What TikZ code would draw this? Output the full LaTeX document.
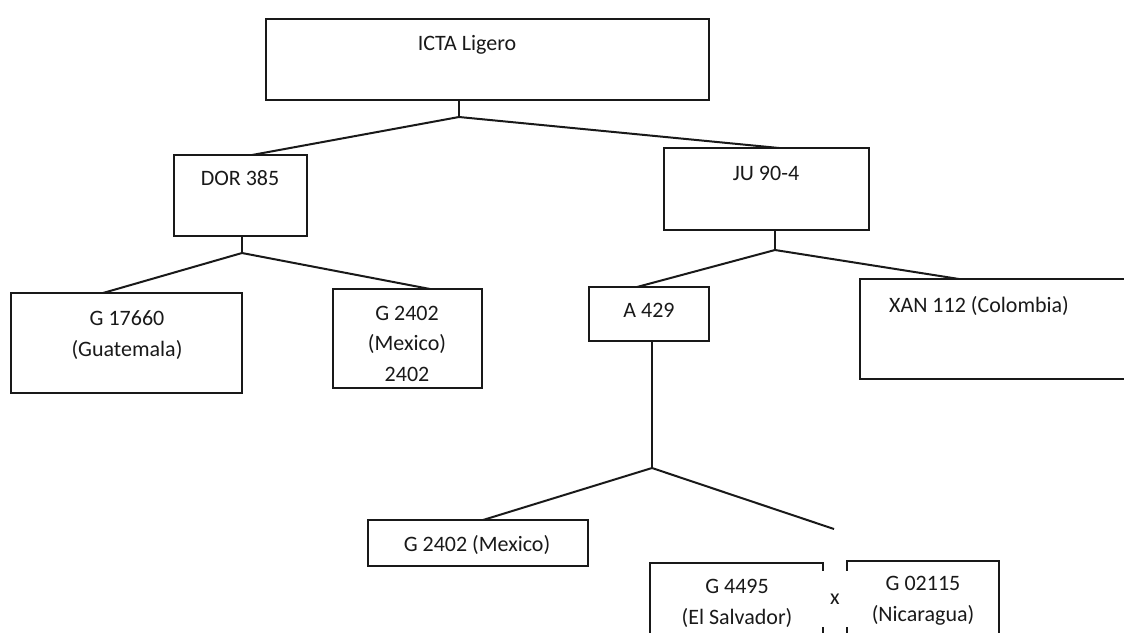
\documentclass[tikz,border=0pt]{standalone}
\usepackage{fontspec}
\setmainfont{Carlito}
\begin{document}
\begin{tikzpicture}[x=1pt,y=-1pt,
  box/.style={draw=black!90, line width=2.2pt, inner sep=0pt, outer sep=0pt},
  lbl/.style={inner sep=0pt, outer sep=0pt, align=center, anchor=base, text=black!90,
              font=\fontsize{22}{30.5}\selectfont},
  link/.style={draw=black!90, line width=2pt, line join=round}]
\useasboundingbox (0,0) rectangle (1124,632);
\clip (0,0) rectangle (1124,632);
% boxes
\node[box, minimum width=443pt, minimum height=81pt] (icta) at (487.5,59.5) {};
\node[box, minimum width=133pt, minimum height=81pt] (dor) at (240.5,195.5) {};
\node[box, minimum width=205pt, minimum height=82pt] (ju) at (766.5,189) {};
\node[box, minimum width=231pt, minimum height=100pt] (g17660) at (126.5,343) {};
\node[box, minimum width=149pt, minimum height=99pt] (g2402) at (407.5,338.5) {};
\node[box, minimum width=120pt, minimum height=54pt] (a429) at (649,314) {};
\node[box, minimum width=290pt, minimum height=100pt] (xan) at (1005,329) {};
\node[box, minimum width=220pt, minimum height=46pt] (g2402mx) at (478,543) {};
\node[box, minimum width=173pt, minimum height=97pt] (g4495) at (736.5,611.5) {};
\node[box, minimum width=152pt, minimum height=99pt] (g02115) at (923,610.5) {};
% branch points
\coordinate (b1) at (459,117);
\coordinate (b2) at (242,253);
\coordinate (b3) at (775,250);
\coordinate (b4) at (652,468);
\coordinate (e1) at (834,529);
% connectors
\draw[link] ([xshift=-28.5pt]icta.south) -- (b1);
\draw[link] ([xshift=11.5pt]dor.north) -- (b1) -- ([xshift=12.5pt]ju.north);
\draw[link] ([xshift=1.5pt]dor.south) -- (b2);
\draw[link] ([xshift=-23.5pt]g17660.north) -- (b2) -- ([xshift=22.5pt]g2402.north);
\draw[link] ([xshift=8.5pt]ju.south) -- (b3);
\draw[link] ([xshift=-12pt]a429.north) -- (b3) -- ([xshift=-46pt]xan.north);
\draw[link] ([xshift=3pt]a429.south) -- (b4);
\draw[link] ([xshift=5pt]g2402mx.north) -- (b4) -- (e1);
% texts
\node[lbl] (ictaT) at (467,50) {ICTA Ligero};
\node[lbl] (dorT) at (240,185) {DOR 385};
\node[lbl] (juT) at (766,180) {JU 90-4};
\node[lbl] (g17660T) at (127,356) {G 17660\\(Guatemala)};
\node[lbl] (g2402T) at (407,381) {G 2402\\(Mexico)\\2402};
\node[lbl] (a429T) at (649,317) {A 429};
\node[lbl] (xanT) at (979,312) {XAN 112 (Colombia)};
\node[lbl] (g2402mxT) at (477,551) {G 2402 (Mexico)};
\node[lbl] (g4495T) at (737,624) {G 4495\\(El Salvador)};
\node[lbl] (g02115T) at (923,621) {G 02115\\(Nicaragua)};
\node[lbl, anchor=center, fill=white, minimum width=34pt, minimum height=56pt] (cross) at (835,599) {x};
\end{tikzpicture}
\end{document}
